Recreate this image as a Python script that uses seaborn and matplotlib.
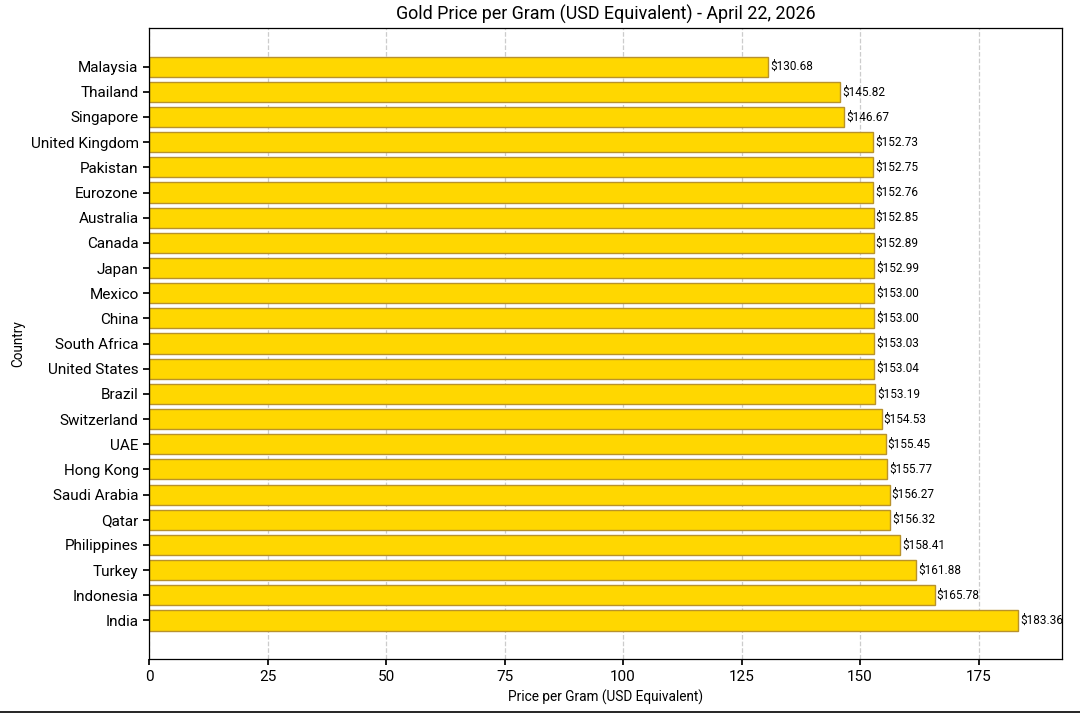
import matplotlib
matplotlib.use("Agg")
import matplotlib.pyplot as plt
import seaborn as sns
import pandas as pd

countries = ["Malaysia", "Thailand", "Singapore", "United Kingdom", "Pakistan", "Eurozone",
             "Australia", "Canada", "Japan", "Mexico", "China", "South Africa", "United States",
             "Brazil", "Switzerland", "UAE", "Hong Kong", "Saudi Arabia", "Qatar", "Philippines",
             "Turkey", "Indonesia", "India"]
prices = [130.68, 145.82, 146.67, 152.73, 152.75, 152.76, 152.85, 152.89, 152.99, 153.00,
          153.00, 153.03, 153.04, 153.19, 154.53, 155.45, 155.77, 156.27, 156.32, 158.41,
          161.88, 165.78, 183.36]
x_ticks = [0, 25, 50, 75, 100, 125, 150, 175]

df = pd.DataFrame({"Country": countries, "Price": prices})

sns.set_theme(style="white")
plt.rcParams["font.family"] = ["Roboto", "DejaVu Sans"]

fig, ax = plt.subplots(figsize=(10.8, 7.15), dpi=100)
fig.subplots_adjust(left=0.138, right=0.983, top=0.961, bottom=0.078)

sns.barplot(data=df, x="Price", y="Country", order=countries, orient="h",
            color="#FFD700", saturation=1, edgecolor="#B8922B", linewidth=1,
            width=0.8, ax=ax)

for i, v in enumerate(prices):
    ax.text(v + 0.4, i, f"${v:.2f}", va="center", ha="left", fontsize=8.5, color="black")

ax.set_xlim(0, max(prices) * 1.05)
ax.set_ylim(len(countries) - 1 + 1.54, -1.54)
ax.set_xticks(x_ticks)
ax.xaxis.grid(True, linestyle="--", color="#cccccc", linewidth=0.9)
ax.set_axisbelow(True)
for s in ax.spines.values():
    s.set_color("black")
    s.set_linewidth(0.9)
ax.tick_params(axis="both", which="both", length=4, color="black", left=True, bottom=True,
               labelsize=11, labelcolor="black")
ax.set_title("Gold Price per Gram (USD Equivalent) - April 22, 2026", fontsize=12.9, color="black")
ax.set_xlabel("Price per Gram (USD Equivalent)", fontsize=9.8, color="black")
ax.set_ylabel("Country", fontsize=9.8, color="black")

fig.add_artist(plt.Line2D([0, 1], [0.0035, 0.0035], color="black", linewidth=1.2,
                          transform=fig.transFigure))

fig.savefig("out.png", dpi=100)
